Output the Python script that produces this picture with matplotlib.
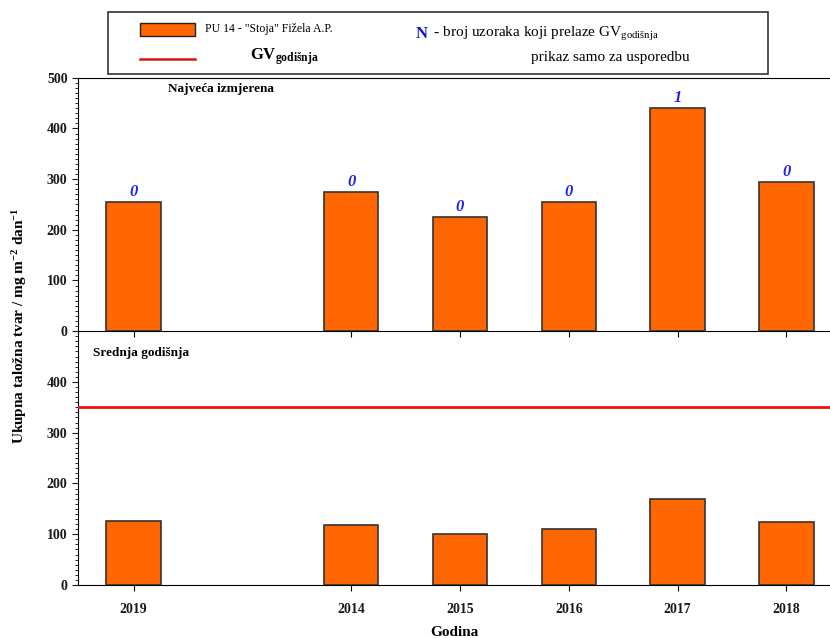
import matplotlib
matplotlib.use('Agg')
import matplotlib.pyplot as plt
from matplotlib.ticker import MultipleLocator
from matplotlib.patches import Rectangle
from matplotlib.lines import Line2D

# podaci
godine = ['2019', '2014', '2015', '2016', '2017', '2018']
pozicije = [0, 2, 3, 4, 5, 6]
najveca = [254, 274, 226, 254, 440, 294]
srednja = [127, 118, 100, 110, 169, 124]
broj_prekoracenja = [0, 0, 0, 0, 1, 0]
gv_godisnja = 350

plt.rcParams['font.family'] = ['Liberation Serif', 'DejaVu Serif']
plt.rcParams['mathtext.fontset'] = 'custom'
plt.rcParams['mathtext.rm'] = 'Liberation Serif'
plt.rcParams['mathtext.it'] = 'Liberation Serif:italic'
plt.rcParams['mathtext.bf'] = 'Liberation Serif:bold'

bar_color = '#FF6600'
edge_color = '#333333'
txt_color = '#1a1a1a'

fig = plt.figure(figsize=(8.3, 6.38), dpi=100)
ax2 = fig.add_axes([0.094, 0.083, 0.906, 0.398])
ax1 = fig.add_axes([0.094, 0.481, 0.906, 0.397])
ax1.set_facecolor('none')
ax2.set_facecolor('none')

for ax in (ax1, ax2):
    ax.set_xlim(-0.51, 6.4)
    ax.set_ylim(0, 500)
    ax.spines['right'].set_visible(False)
    ax.yaxis.set_major_locator(MultipleLocator(100))
    ax.yaxis.set_minor_locator(MultipleLocator(10))
    ax.tick_params(axis='y', which='major', direction='out', length=4,
                   labelsize=10, colors=txt_color)
    ax.tick_params(axis='y', which='minor', direction='out', length=2)
    ax.tick_params(axis='x', direction='out', length=4)
    ax.set_xticks(pozicije)

ax2.spines['top'].set_visible(False)

# gornji graf - najveca izmjerena
ax1.bar(pozicije, najveca, width=0.5, color=bar_color, edgecolor=edge_color,
        linewidth=1.2, zorder=3)
for x, y, n in zip(pozicije, najveca, broj_prekoracenja):
    ax1.text(x, y + 4, str(n), ha='center', va='bottom', color='#2222EE',
             fontsize=12, fontweight='bold', style='italic')
ax1.set_xticklabels([])
ax1.text(0.12, 0.955, 'Najveća izmjerena', transform=ax1.transAxes,
         fontsize=9.5, fontweight='bold', va='center', ha='left')

# donji graf - srednja godisnja
ax2.bar(pozicije, srednja, width=0.5, color=bar_color, edgecolor=edge_color,
        linewidth=1.2, zorder=3)
ax2.axhline(gv_godisnja, color='#EE1111', lw=2, zorder=4)
ax2.set_yticks([0, 100, 200, 300, 400])
ax2.set_xticks(pozicije)
ax2.set_xticklabels(godine, fontsize=10, fontweight='bold', color=txt_color)
ax2.tick_params(axis='x', pad=9)
ax2.text(0.02, 0.915, 'Srednja godišnja', transform=ax2.transAxes,
         fontsize=9.5, fontweight='bold', va='center', ha='left')

for ax in (ax1, ax2):
    for lab in ax.get_yticklabels():
        lab.set_fontweight('bold')

fig.text(0.548, 0.009, 'Godina', ha='center', va='center', fontsize=11,
         fontweight='bold')
fig.text(0.024, 0.49, r'Ukupna taložna tvar / mg m$^{\mathbf{-2}}$ dan$^{\mathbf{-1}}$',
         rotation=90, ha='center', va='center', fontsize=11,
         fontweight='bold')

# legenda (okvir iznad grafa)
fig.patches.append(Rectangle((108 / 830, 1 - 74 / 638), 660 / 830, 62 / 638,
                             transform=fig.transFigure, fill=False,
                             edgecolor='#333333', lw=1.2))
fig.patches.append(Rectangle((140 / 830, 1 - 36 / 638), 55 / 830, 13 / 638,
                             transform=fig.transFigure, facecolor=bar_color,
                             edgecolor='#222222', lw=1))
fig.lines.append(Line2D([140 / 830, 195 / 830], [1 - 59 / 638, 1 - 59 / 638],
                        transform=fig.transFigure, color='#DD1111', lw=1.8))
fig.text(205 / 830, 1 - 29 / 638, 'PU 14 - "Stoja" Fižela A.P.', fontsize=8.5,
         va='center', ha='left')
fig.text(250 / 830, 1 - 57 / 638, r'GV$_{\mathbf{godišnja}}$', fontsize=12,
         fontweight='bold', va='center', ha='left')
fig.text(416 / 830, 1 - 34 / 638, 'N', fontsize=12, fontweight='bold',
         color='#1111CC', va='center', ha='left')
fig.text(430 / 830, 1 - 34 / 638, r' - broj uzoraka koji prelaze GV$_{\mathrm{godišnja}}$',
         fontsize=11, va='center', ha='left')
fig.text(690 / 830, 1 - 57 / 638, 'prikaz samo za usporedbu', fontsize=11,
         va='center', ha='right')

fig.savefig('out.png', dpi=100)
plt.close(fig)
